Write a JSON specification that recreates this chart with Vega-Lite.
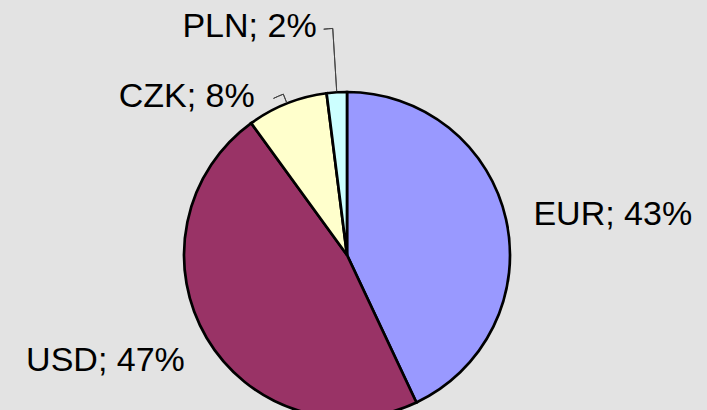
{
  "$schema": "https://vega.github.io/schema/vega-lite/v6.json",
  "width": 694,
  "height": 310,
  "autosize": {"type": "none"},
  "padding": {"left": 0, "top": 100, "right": 13, "bottom": 0},
  "background": "#e3e3e3",
  "config": {"view": {"stroke": null}},
  "data": {
    "values": [
      {"currency": "EUR", "share": 43, "rank": 1, "label": "EUR; 43%"},
      {"currency": "USD", "share": 47, "rank": 2, "label": "USD; 47%"},
      {"currency": "CZK", "share": 8, "rank": 3, "label": "CZK; 8%"},
      {"currency": "PLN", "share": 2, "rank": 4, "label": "PLN; 2%"}
    ]
  },
  "transform": [
    {"stack": "share", "groupby": [], "sort": [{"field": "rank", "order": "ascending"}], "as": ["s0", "s1"]},
    {"calculate": "(datum.s0 + datum.s1) / 2", "as": "mid"}
  ],
  "layer": [
    {
      "mark": {"type": "arc", "outerRadius": 163, "stroke": "#000000", "strokeWidth": 2.7},
      "encoding": {
        "theta": {"field": "s0", "type": "quantitative", "scale": {"domain": [0, 100]}},
        "theta2": {"field": "s1"},
        "color": {
          "field": "currency", "type": "nominal", "legend": null,
          "scale": {"domain": ["EUR", "USD", "CZK", "PLN"], "range": ["#9999ff", "#993366", "#ffffcc", "#ccffff"]}
        }
      }
    },
    {
      "transform": [{"filter": "datum.currency === 'PLN'"}],
      "mark": {"type": "arc", "innerRadius": 164, "outerRadius": 227, "fillOpacity": 0, "stroke": "#444444", "strokeWidth": 1},
      "encoding": {
        "theta": {"field": "mid", "type": "quantitative", "scale": {"domain": [0, 100]}},
        "theta2": {"field": "mid"}
      }
    },
    {
      "transform": [{"filter": "datum.currency === 'PLN'"}],
      "mark": {"type": "arc", "innerRadius": 227, "outerRadius": 227, "theta2Offset": -0.04, "fillOpacity": 0, "stroke": "#444444", "strokeWidth": 1},
      "encoding": {
        "theta": {"field": "mid", "type": "quantitative", "scale": {"domain": [0, 100]}},
        "theta2": {"field": "mid"}
      }
    },
    {
      "transform": [{"filter": "datum.currency === 'CZK'"}],
      "mark": {"type": "arc", "innerRadius": 164, "outerRadius": 173, "fillOpacity": 0, "stroke": "#444444", "strokeWidth": 1},
      "encoding": {
        "theta": {"field": "mid", "type": "quantitative", "scale": {"domain": [0, 100]}},
        "theta2": {"field": "mid"}
      }
    },
    {
      "transform": [{"filter": "datum.currency === 'CZK'"}],
      "mark": {"type": "arc", "innerRadius": 173, "outerRadius": 173, "theta2Offset": -0.062, "fillOpacity": 0, "stroke": "#444444", "strokeWidth": 1},
      "encoding": {
        "theta": {"field": "mid", "type": "quantitative", "scale": {"domain": [0, 100]}},
        "theta2": {"field": "mid"}
      }
    },
    {
      "transform": [{"filter": "datum.currency === 'EUR'"}],
      "mark": {"type": "text", "radius": 190, "align": "left", "baseline": "middle", "dx": 1, "dy": 1, "font": "Liberation Sans", "fontSize": 34, "color": "#000000"},
      "encoding": {
        "theta": {"field": "mid", "type": "quantitative", "scale": {"domain": [0, 100]}},
        "text": {"field": "label"}
      }
    },
    {
      "transform": [{"filter": "datum.currency === 'USD'"}],
      "mark": {"type": "text", "radius": 200, "align": "right", "baseline": "middle", "dx": 10, "dy": 4, "font": "Liberation Sans", "fontSize": 34, "color": "#000000"},
      "encoding": {
        "theta": {"field": "mid", "type": "quantitative", "scale": {"domain": [0, 100]}},
        "text": {"field": "label"}
      }
    },
    {
      "transform": [{"filter": "datum.currency === 'CZK'"}],
      "mark": {"type": "text", "radius": 172, "align": "right", "baseline": "middle", "dx": -29, "dy": 2, "font": "Liberation Sans", "fontSize": 34, "color": "#000000"},
      "encoding": {
        "theta": {"field": "mid", "type": "quantitative", "scale": {"domain": [0, 100]}},
        "text": {"field": "label"}
      }
    },
    {
      "transform": [{"filter": "datum.currency === 'PLN'"}],
      "mark": {"type": "text", "radius": 229, "align": "right", "baseline": "middle", "dx": -16, "dy": 1, "font": "Liberation Sans", "fontSize": 34, "color": "#000000"},
      "encoding": {
        "theta": {"field": "mid", "type": "quantitative", "scale": {"domain": [0, 100]}},
        "text": {"field": "label"}
      }
    }
  ]
}
